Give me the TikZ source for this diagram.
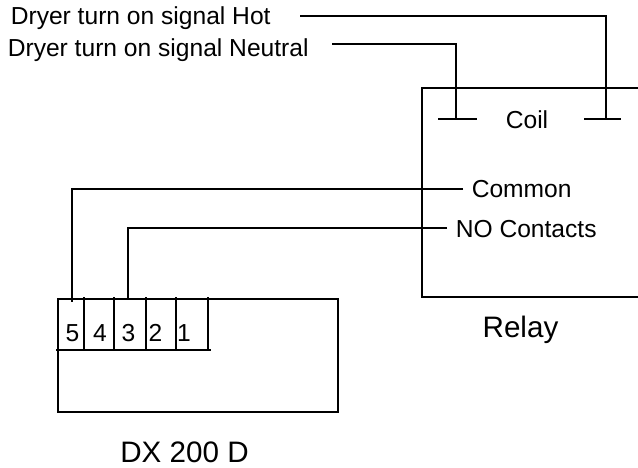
\documentclass[tikz,border=0pt]{standalone}
\usepackage{fontspec}
\setmainfont{Liberation Sans}
\tikzset{
  lbl/.style={inner sep=0pt, anchor=base, font=\fontsize{24.6pt}{26pt}\selectfont},
  bigl/.style={inner sep=0pt, anchor=base, font=\fontsize{29.6pt}{32pt}\selectfont},
  wire/.style={line width=1.6pt},
}
\begin{document}
\begin{tikzpicture}[x=1pt,y=-1pt,wire]
  \useasboundingbox (0,0) rectangle (638,468);
  % labels
  \node[lbl,anchor=base west] (hot) at (10,25) {Dryer turn on signal Hot};
  \node[lbl,anchor=base west] (neutral) at (7,57) {Dryer turn on signal Neutral};
  \node[lbl] (coil) at (527,129) {Coil};
  \node[lbl,anchor=base west] (common) at (471,198) {Common};
  \node[lbl,anchor=base west] (contacts) at (455,238) {NO Contacts};
  \node[bigl] (relay) at (520.5,337) {Relay};
  \node[bigl] (dx) at (184.5,462) {DX 200 D};
  \node[lbl] (p5) at (72.5,341) {5};
  \node[lbl] (p4) at (100,341) {4};
  \node[lbl] (p3) at (128.5,341) {3};
  \node[lbl] (p2) at (155.5,341) {2};
  \node[lbl] (p1) at (184,341) {1};
  % relay box
  \draw (638,88) -- (422,88) -- (422,297) -- (638,297);
  % board box
  \draw (58,350) -- (58,412) -- (338,412) -- (338,299) -- (58,299) -- (58,350);
  \draw (56,350) -- (211,350);
  \foreach \x in {84,114,146,176,208}
    \draw (\x,297) -- (\x,350);
  % coil
  \coordinate (teel) at (456,119);
  \coordinate (teer) at (606,119);
  \draw (438,119) -- (477,119);
  \draw (584,119) -- (621,119);
  \coordinate (hotend) at (300,16);
  \coordinate (neutralend) at (332,44);
  \draw (hotend) -| (teer);
  \draw (neutralend) -| (teel);
  % contacts
  \coordinate (commonend) at (463,189);
  \coordinate (contactsend) at (447,228);
  \coordinate (pin5) at (72,302);
  \coordinate (pin3) at (128,299);
  \draw (commonend) -| (pin5);
  \draw (contactsend) -| (pin3);
\end{tikzpicture}
\end{document}
